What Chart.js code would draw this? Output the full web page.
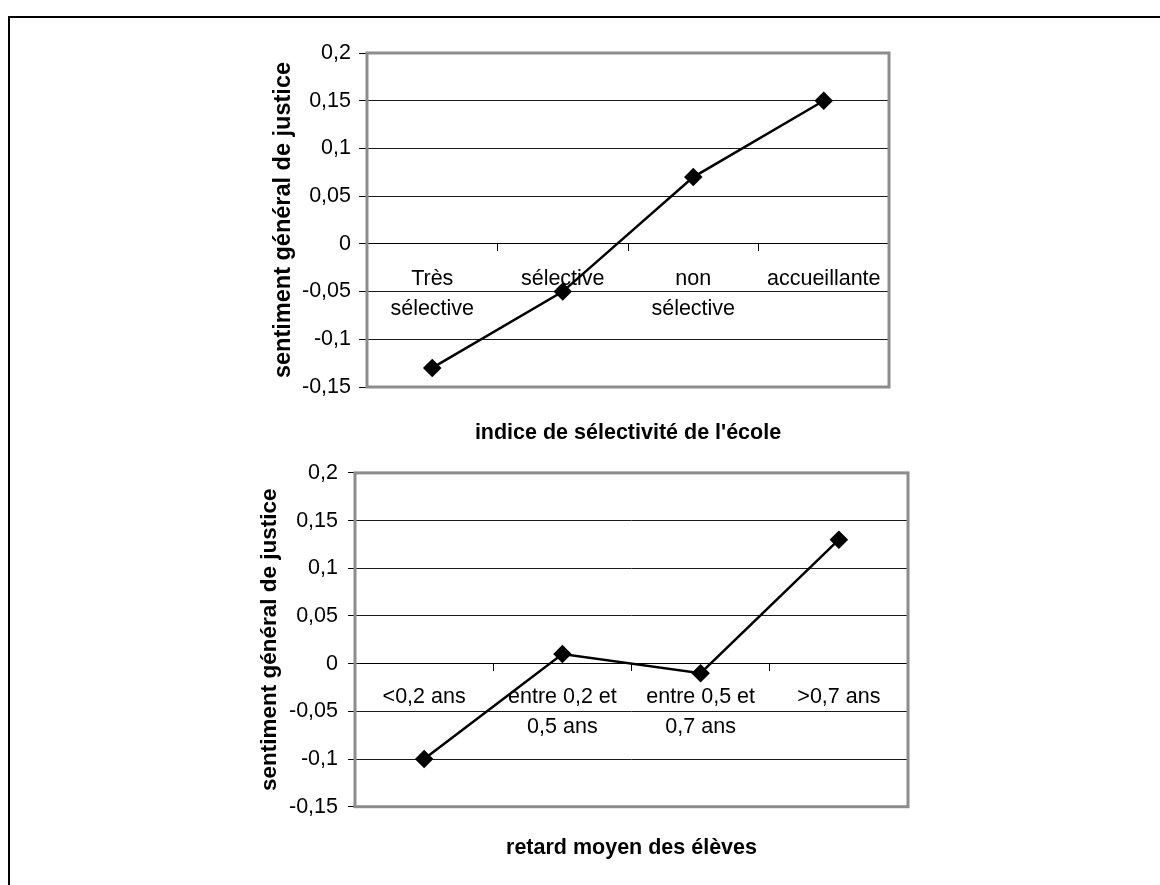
<!DOCTYPE html>
<html>
<head>
	<meta charset="utf-8">
	<title>Sentiment général de justice</title>
	<style>
		body { margin: 0; background: #fff; width: 1160px; height: 885px; overflow: hidden; position: relative; }
		.frame { position: absolute; left: 8px; top: 16px; width: 1200px; height: 900px; border-left: 2px solid #000; border-top: 2px solid #000; }
		canvas { position: absolute; left: 0; }
	</style>
	<script src="https://cdn.jsdelivr.net/npm/chart.js@4.4.1/dist/chart.umd.min.js"></script>
</head>
<body>
	<div class="frame"></div>
	<canvas id="chartSelectivite" width="1160" height="450" style="top:0px"></canvas>
	<canvas id="chartRetard" width="1160" height="435" style="top:450px"></canvas>

	<script type="text/javascript">
		// data
		const selectiviteLabels = [['Très', 'sélective'], 'sélective', ['non', 'sélective'], 'accueillante'];
		const selectiviteValues = [-0.13, -0.05, 0.07, 0.15];

		const retardLabels = ['<0,2 ans', ['entre 0,2 et', '0,5 ans'], ['entre 0,5 et', '0,7 ans'], '>0,7 ans'];
		const retardValues = [-0.10, 0.01, -0.01, 0.13];

		const yMin = -0.15;
		const yMax = 0.2;
		const yStep = 0.05;

		const yTitle = 'sentiment général de justice';

		Chart.defaults.font.family = '"Liberation Sans", Arial, sans-serif';
		Chart.defaults.color = '#000';

		// gray frame round the plot area, like the old spreadsheet chart
		const plotBorder = {
			id: 'plotBorder',
			afterDraw(chart) {
				const a = chart.chartArea;
				const ctx = chart.ctx;
				ctx.save();
				ctx.strokeStyle = '#8c8c8c';
				ctx.lineWidth = 3;
				ctx.strokeRect(a.left, a.top, a.right - a.left, a.bottom - a.top);
				ctx.restore();
			}
		};

		function makeChart(id, labels, values, xTitle, g) {
			const ctx = document.getElementById(id).getContext('2d');
			return new Chart(ctx, {
				type: 'line',
				data: {
					labels: labels,
					datasets: [{
						data: values,
						borderColor: '#000',
						backgroundColor: '#000',
						borderWidth: 2.5,
						pointStyle: 'rectRot',
						pointRadius: 7.5,
						pointHoverRadius: 7.5,
						tension: 0
					}]
				},
				options: {
					responsive: false,
					animation: false,
					layout: { padding: g.padding },
					plugins: {
						legend: { display: false },
						tooltip: { enabled: false },
						title: {
							display: true,
							fullSize: false,
							position: 'bottom',
							text: xTitle,
							font: { size: 21.5, weight: 'bold' },
							padding: g.titlePadding
						}
					},
					scales: {
						x: {
							position: { y: 0 },
							offset: true,
							grid: {
								offset: true,
								drawOnChartArea: false,
								tickLength: 7,
								tickColor: '#000'
							},
							border: { color: '#000', width: 1 },
							ticks: {
								autoSkip: false,
								maxRotation: 0,
								padding: g.xPad,
								font: { size: 21.5, lineHeight: 1.4 }
							}
						},
						y: {
							min: yMin,
							max: yMax,
							afterFit: function (scale) { scale.width = 120; },
							grid: {
								color: '#1a1a1a',
								lineWidth: 1,
								tickLength: g.yTick,
								tickColor: '#000'
							},
							border: { display: false },
							ticks: {
								stepSize: yStep,
								padding: g.yPad,
								font: { size: 21.5 },
								callback: function (v) {
									return String(Math.round(v * 100) / 100).replace('.', ',');
								}
							},
							title: {
								display: true,
								text: yTitle,
								font: { size: g.yTitleSize, weight: 'bold' },
								padding: { top: g.yTitlePad, bottom: 0 }
							}
						}
					}
				},
				plugins: [plotBorder]
			});
		}

		makeChart('chartSelectivite', selectiviteLabels, selectiviteValues, "indice de sélectivité de l'école", {
			padding: { left: 247, right: 271, top: 53, bottom: 0 },
			titlePadding: { top: 33.1, bottom: 4.1 },
			xPad: 13,
			yTick: 8,
			yPad: 8,
			yTitleSize: 23.5,
			yTitlePad: 22
		});

		makeChart('chartRetard', retardLabels, retardValues, 'retard moyen des élèves', {
			padding: { left: 235, right: 252, top: 18, bottom: 0 },
			titlePadding: { top: 28.4, bottom: 24.1 },
			xPad: 11,
			yTick: 7,
			yPad: 10,
			yTitleSize: 22.5,
			yTitlePad: 21.5
		});
	</script>
</body>
</html>
